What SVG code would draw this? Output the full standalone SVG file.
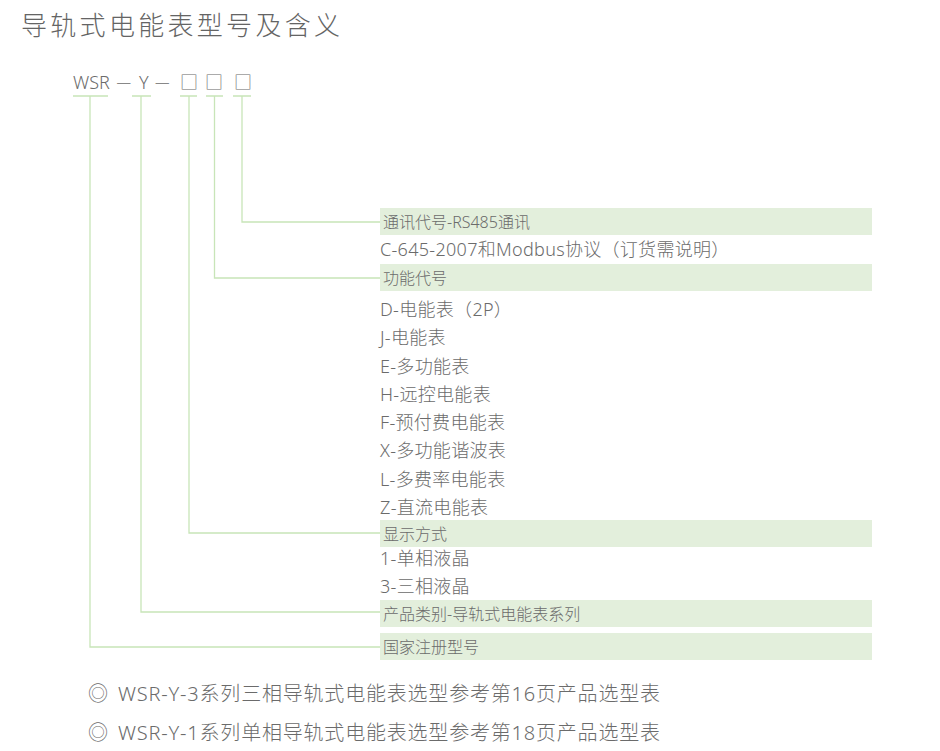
<svg xmlns="http://www.w3.org/2000/svg" width="940" height="751" viewBox="0 0 940 751">
<style>
text{font-family:"Noto Sans","Noto Sans CJK SC",sans-serif;font-weight:300;fill:#6b6b6b}
.title{font-size:26px;letter-spacing:3.3px;fill:#646464}
.hd{font-size:18px}
.dash{font-size:14.5px;fill:#888}
.band{fill:#e3efdc}
.bt{font-size:16px}
.it{font-size:18px;letter-spacing:0.3px}
.ft{font-size:20px;letter-spacing:0.8px}
.ln{stroke:#c8e5b8;stroke-width:1.3;fill:none}
</style>
<rect width="940" height="751" fill="#fff"/>
<text class="title" x="21" y="35">导轨式电能表型号及含义</text>
<g id="header">
<text class="hd" x="73" y="89">WSR</text>
<text class="dash" x="116.5" y="87">—</text>
<text class="hd" x="139" y="89">Y</text>
<text class="dash" x="155" y="87">—</text>
<text class="hd" x="180" y="89">□</text>
<text class="hd" x="205" y="89">□</text>
<text class="hd" x="234" y="89">□</text>
</g>
<g id="connectors" class="ln">
<path d="M73 96H108M132 96H151M180 96H197M206 96H223M233 96H251"/>
<path d="M242 96V222H380"/>
<path d="M214.5 96V278H380"/>
<path d="M189 96V533H380"/>
<path d="M141 96V612H380"/>
<path d="M90 96V647H380"/>
</g>
<g id="comm">
<rect class="band" x="380" y="208" width="492" height="27"/>
<text class="bt" x="383" y="228">通讯代号-RS485通讯</text>
<text class="it" x="380" y="256">C-645-2007和Modbus协议（订货需说明）</text>
</g>
<g id="func">
<rect class="band" x="380" y="264" width="492" height="27"/>
<text class="bt" x="383" y="284">功能代号</text>
<text class="it" x="380" y="316">D-电能表（2P）</text>
<text class="it" x="380" y="344">J-电能表</text>
<text class="it" x="380" y="372.5">E-多功能表</text>
<text class="it" x="380" y="401">H-远控电能表</text>
<text class="it" x="380" y="429">F-预付费电能表</text>
<text class="it" x="380" y="457">X-多功能谐波表</text>
<text class="it" x="380" y="485.5">L-多费率电能表</text>
<text class="it" x="380" y="514">Z-直流电能表</text>
</g>
<g id="display">
<rect class="band" x="380" y="520" width="492" height="27"/>
<text class="bt" x="383" y="540">显示方式</text>
<text class="it" x="380" y="565">1-单相液晶</text>
<text class="it" x="380" y="593">3-三相液晶</text>
</g>
<g id="category">
<rect class="band" x="380" y="600" width="492" height="27"/>
<text class="bt" x="383" y="620">产品类别-导轨式电能表系列</text>
</g>
<g id="reg">
<rect class="band" x="380" y="633" width="492" height="27"/>
<text class="bt" x="383" y="653">国家注册型号</text>
</g>
<g id="notes">
<text class="ft" x="88" y="701">◎<tspan x="118">WSR-Y-3系列三相导轨式电能表选型参考第16页产品选型表</tspan></text>
<text class="ft" x="88" y="740">◎<tspan x="118">WSR-Y-1系列单相导轨式电能表选型参考第18页产品选型表</tspan></text>
</g>
</svg>
